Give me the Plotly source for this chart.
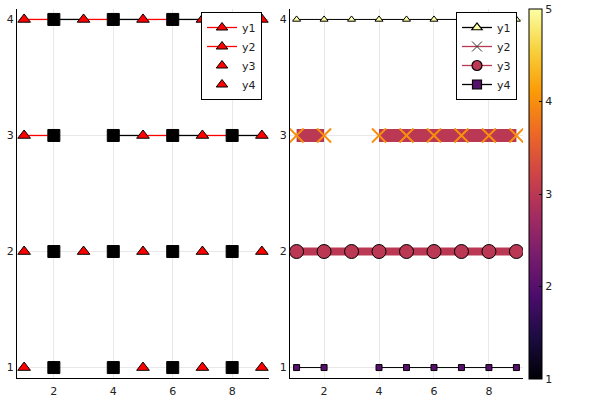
import plotly.graph_objects as go
from plotly.colors import sample_colorscale

# ---------------- data ----------------
x_vals = [1, 2, 3, 4, 5, 6, 7, 8, 9]
series_names = ["y1", "y2", "y3", "y4"]

# left panel
left_y1 = [4, 4, 4, 4, 4, 4, 4, 4, 4]
left_y2 = [3, 3, None, 3, 3, 3, 3, 3, 3]
left_y3 = [2, 2, 2, 2, 2, 2, 2, 2, 2]
left_y4 = [1, 1, None, 1, 1, 1, 1, 1, 1]
left_has_line = [True, True, False, False]
left_point_symbols = ["triangle-up", "square", "triangle-up", "square", "triangle-up",
                      "square", "triangle-up", "square", "triangle-up"]
left_point_colors = ["red", "black", "red", "black", "red", "black", "red", "black", "red"]

# right panel
right_y1 = [4, 4, 4, 4, 4, 4, 4, 4, 4]
right_y2 = [3, 3, None, 3, 3, 3, 3, 3, 3]
right_y3 = [2, 2, 2, 2, 2, 2, 2, 2, 2]
right_y4 = [1, 1, None, 1, 1, 1, 1, 1, 1]
right_marker_z = [5, 4, 3, 2]
right_line_z = [None, 3, 3, None]      # None -> black line
right_symbols = ["triangle-up", "x-thin", "circle", "square"]
right_marker_sizes = [7, 14, 14, 6]
right_line_widths = [1, 13, 8, 1]

x_ticks = [2, 4, 6, 8]
y_ticks = [1, 2, 3, 4]
cbar_ticks = [1, 2, 3, 4, 5]
cmin, cmax = 1, 5

# ---------------- figure ----------------
def z2color(z):
    return sample_colorscale("Inferno", [(z - cmin) / (cmax - cmin)])[0]

fig = go.Figure()
left_series = [left_y1, left_y2, left_y3, left_y4]
right_series = [right_y1, right_y2, right_y3, right_y4]

# left: line segments coloured by their start point
for ys, has_line in zip(left_series, left_has_line):
    if not has_line:
        continue
    for i in range(len(x_vals) - 1):
        if ys[i] is None or ys[i + 1] is None:
            continue
        fig.add_trace(go.Scatter(
            x=[x_vals[i], x_vals[i + 1]], y=[ys[i], ys[i + 1]],
            mode="lines", line=dict(color=left_point_colors[i], width=1.3),
            showlegend=False, hoverinfo="skip", xaxis="x", yaxis="y"))

for ys in left_series:
    fig.add_trace(go.Scatter(
        x=x_vals, y=ys, mode="markers",
        marker=dict(symbol=left_point_symbols, color=left_point_colors, opacity=1,
                    size=[12 if s == "square" else 11 for s in left_point_symbols],
                    line=dict(color="black", width=1)),
        showlegend=False, xaxis="x", yaxis="y"))

# left legend entries
for name, has_line in zip(series_names, left_has_line):
    fig.add_trace(go.Scatter(
        x=[None], y=[None], name=name,
        mode="lines+markers" if has_line else "markers",
        line=dict(color="red", width=1.3),
        marker=dict(symbol="triangle-up", color="red", size=10, opacity=1,
                    line=dict(color="black", width=1)),
        legend="legend", xaxis="x", yaxis="y"))

# right panel
for k, (ys, name) in enumerate(zip(right_series, series_names)):
    lz = right_line_z[k]
    lcolor = "black" if lz is None else z2color(lz)
    mz = right_marker_z[k]
    sym = right_symbols[k]
    if sym == "x-thin":
        marker = dict(symbol=sym, size=right_marker_sizes[k], opacity=1,
                      line=dict(color=z2color(mz), width=2))
    else:
        marker = dict(symbol=sym, size=right_marker_sizes[k], opacity=1,
                      color=[mz for _ in x_vals], coloraxis="coloraxis",
                      line=dict(color="black", width=1))
    fig.add_trace(go.Scatter(
        x=x_vals, y=ys, mode="lines+markers",
        line=dict(color=lcolor, width=right_line_widths[k]),
        marker=marker, showlegend=False, xaxis="x2", yaxis="y2"))

# right legend entries
for k, name in enumerate(series_names):
    lz = right_line_z[k]
    lcolor = "black" if lz is None else z2color(lz)
    sym = right_symbols[k]
    if sym == "x-thin":
        marker = dict(symbol=sym, size=10, line=dict(color="#333333", width=1))
    else:
        marker = dict(symbol=sym, size=[9, 10, 10, 9][k], color=z2color(right_marker_z[k]),
                      line=dict(color="black", width=1.2))
    fig.add_trace(go.Scatter(
        x=[None], y=[None], name=name, mode="lines+markers",
        line=dict(color=lcolor, width=1.3), marker=marker,
        legend="legend2", xaxis="x2", yaxis="y2"))

axis_common = dict(showline=True, linecolor="black", linewidth=1, mirror=False,
                   showgrid=True, gridcolor="#e8e8e8", gridwidth=1, zeroline=False,
                   ticks="", tickfont=dict(family="DejaVu Sans", size=11, color="#222222"))

xr = [0.76, 9.24]
yr = [0.91, 4.09]
ydom = [22 / 400, 391 / 400]

legend_common = dict(bgcolor="white", bordercolor="black", borderwidth=1,
                     font=dict(family="DejaVu Sans", size=11, color="#222222"),
                     xanchor="left", yanchor="top", tracegroupgap=0)

fig.update_layout(
    width=600, height=400,
    margin=dict(l=0, r=0, t=0, b=0),
    paper_bgcolor="white", plot_bgcolor="white",
    xaxis=dict(domain=[17 / 600, 269 / 600], range=xr, tickvals=x_ticks, anchor="y",
               ticklabelstandoff=3, **axis_common),
    yaxis=dict(domain=ydom, range=yr, tickvals=y_ticks, anchor="x", **axis_common),
    xaxis2=dict(domain=[290 / 600, 523 / 600], range=xr, tickvals=x_ticks, anchor="y2",
                ticklabelstandoff=3, **axis_common),
    yaxis2=dict(domain=ydom, range=yr, tickvals=y_ticks, anchor="x2", **axis_common),
    legend=dict(x=201 / 600, y=1 - 12 / 400, **legend_common),
    legend2=dict(x=456 / 600, y=1 - 12 / 400, **legend_common),
    coloraxis=dict(
        colorscale="Inferno", cmin=cmin, cmax=cmax,
        colorbar=dict(x=529 / 600, xanchor="left", xpad=0, ypad=0, thickness=13,
                      lenmode="fraction", len=370 / 400, y=21 / 400, yanchor="bottom",
                      outlinewidth=1, outlinecolor="black",
                      tickvals=cbar_ticks, ticks="inside", ticklen=3, tickcolor="black",
                      tickfont=dict(family="DejaVu Sans", size=11, color="#222222"))),
    showlegend=True,
)

fig.write_html("out.html", config={"displayModeBar": False},
               post_script="document.body.style.margin='0px';")
